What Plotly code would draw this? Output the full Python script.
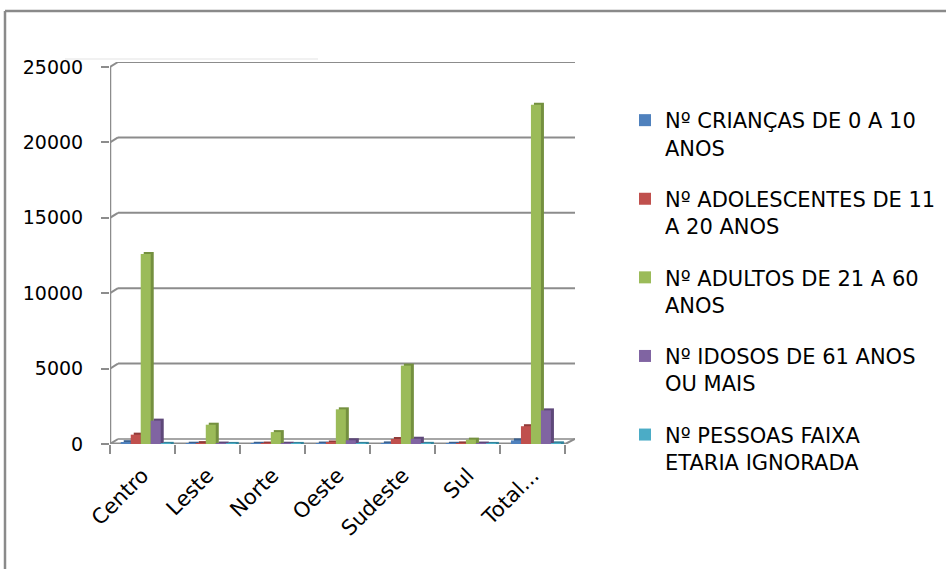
import plotly.graph_objects as go

# ---- data -------------------------------------------------------------
regioes = ["Centro", "Leste", "Norte", "Oeste", "Sudeste", "Sul", "Total..."]

series_names = [
    "Nº CRIANÇAS DE 0 A 10<br>ANOS",
    "Nº ADOLESCENTES DE 11<br>A 20 ANOS",
    "Nº ADULTOS DE 21 A 60<br>ANOS",
    "Nº IDOSOS DE 61 ANOS<br>OU MAIS",
    "Nº PESSOAS FAIXA<br>ETARIA IGNORADA",
]

criancas = [120, 20, 15, 30, 40, 15, 240]
adolescentes = [620, 60, 30, 100, 330, 40, 1180]
adultos = [12600, 1280, 790, 2300, 5200, 290, 22500]
idosos = [1550, 30, 20, 250, 350, 30, 2230]
ignorada = [10, 5, 5, 8, 10, 5, 45]

y_ticks = [0, 5000, 10000, 15000, 20000, 25000]

# ---- styling ----------------------------------------------------------
face_colors = ["#4f81bd", "#c0504d", "#9bbb59", "#8064a2", "#4bacc6"]
side_colors = ["#3a6190", "#913b39", "#74903f", "#5e4879", "#33849b"]
FONT = "DejaVu Sans"
AXIS_GREY = "#8c8c8c"

W, H = 946, 569
ML, MR, MT, MB = 110, 371, 62, 125
plot_w = W - ML - MR
plot_h = H - MT - MB

X_MIN, X_MAX = -0.5, 6.65
px_per_cat = plot_w / (X_MAX - X_MIN)
Y_MAX = 25332
px_per_unit = plot_h / Y_MAX

# depth of the pseudo-3D wall / floor
DX = 8 / px_per_cat
DY = 5 / px_per_unit

bar_w = 10 / px_per_cat
group_start = -0.335
side_dx = 3 / px_per_cat
side_dy = 2 / px_per_unit


def paper_x(px):
    return (px - ML) / plot_w


def paper_y(py):
    return (H - MB - py) / plot_h


fig = go.Figure()

all_series = [criancas, adolescentes, adultos, idosos, ignorada]

# darker side/top faces first, then the front faces on top
for i, vals in enumerate(all_series):
    fig.add_trace(go.Bar(
        x=regioes,
        y=[v + side_dy for v in vals],
        width=bar_w,
        offset=group_start + i * bar_w + side_dx,
        marker=dict(color=side_colors[i], line=dict(width=0)),
        showlegend=False,
        hoverinfo="skip",
    ))
for i, vals in enumerate(all_series):
    fig.add_trace(go.Bar(
        x=regioes,
        y=vals,
        width=bar_w,
        offset=group_start + i * bar_w,
        name=series_names[i],
        legendgroup=f"g{i}",
        marker=dict(color=face_colors[i], line=dict(width=0)),
    ))

shapes = []
# back-wall gridlines with the slanted joint to the value axis
for t in y_ticks:
    shapes.append(dict(type="line", xref="x", yref="y", layer="below",
                       x0=X_MIN, y0=t, x1=X_MIN + DX, y1=t + DY,
                       line=dict(color=AXIS_GREY, width=2)))
    shapes.append(dict(type="line", xref="x", yref="y", layer="below",
                       x0=X_MIN + DX, y0=t + DY, x1=X_MAX, y1=t + DY,
                       line=dict(color=AXIS_GREY if t else "#a6a6a6", width=2)))
# floor front edge and right edge
shapes.append(dict(type="line", xref="x", yref="y", layer="below",
                   x0=X_MIN, y0=0, x1=6.5, y1=0,
                   line=dict(color=AXIS_GREY, width=3)))
shapes.append(dict(type="line", xref="x", yref="y", layer="below",
                   x0=6.5, y0=0, x1=X_MAX, y1=DY,
                   line=dict(color=AXIS_GREY, width=2)))
# value axis line
shapes.append(dict(type="line", xref="x", yref="y", layer="below",
                   x0=X_MIN, y0=0, x1=X_MIN, y1=y_ticks[-1],
                   line=dict(color=AXIS_GREY, width=2.5)))
# chart frame (top and left edges)
shapes.append(dict(type="line", xref="paper", yref="paper",
                   x0=paper_x(5), y0=paper_y(11), x1=paper_x(W), y1=paper_y(11),
                   line=dict(color="#8a8a8a", width=2.5)))
shapes.append(dict(type="line", xref="paper", yref="paper",
                   x0=paper_x(5), y0=paper_y(11), x1=paper_x(5), y1=paper_y(H),
                   line=dict(color="#8a8a8a", width=2.5)))
shapes.append(dict(type="line", xref="paper", yref="paper",
                   x0=paper_x(65), y0=paper_y(59), x1=paper_x(318), y1=paper_y(59),
                   line=dict(color="#e3e3e3", width=1)))

fig.update_layout(
    width=W, height=H,
    margin=dict(l=ML, r=MR, t=MT, b=MB, pad=0, autoexpand=False),
    paper_bgcolor="white",
    plot_bgcolor="white",
    barmode="overlay",
    font=dict(family=FONT, color="black", size=19),
    shapes=shapes,
    legend=dict(
        x=paper_x(625), y=paper_y(100), xanchor="left", yanchor="top",
        xref="paper", yref="paper",
        font=dict(family=FONT, size=21, color="black"),
        valign="top",
        tracegroupgap=21,
        maxheight=H,
        bgcolor="rgba(0,0,0,0)",
    ),
    xaxis=dict(
        type="category",
        categoryorder="array", categoryarray=regioes,
        range=[X_MIN, X_MAX],
        showgrid=False, showline=False, zeroline=False,
        ticks="outside", tickson="boundaries", ticklen=9,
        tickcolor=AXIS_GREY, tickwidth=2,
        tickangle=-45,
        ticklabelstandoff=14,
        tickfont=dict(family=FONT, size=21, color="black"),
    ),
    yaxis=dict(
        range=[0, Y_MAX],
        tickvals=y_ticks,
        tickformat="d",
        showgrid=False, showline=False, zeroline=False,
        ticks="outside", ticklen=8, tickcolor=AXIS_GREY, tickwidth=2,
        ticklabelstandoff=14,
        tickfont=dict(family=FONT, size=19, color="black"),
    ),
)

fig.write_html("out.html")
